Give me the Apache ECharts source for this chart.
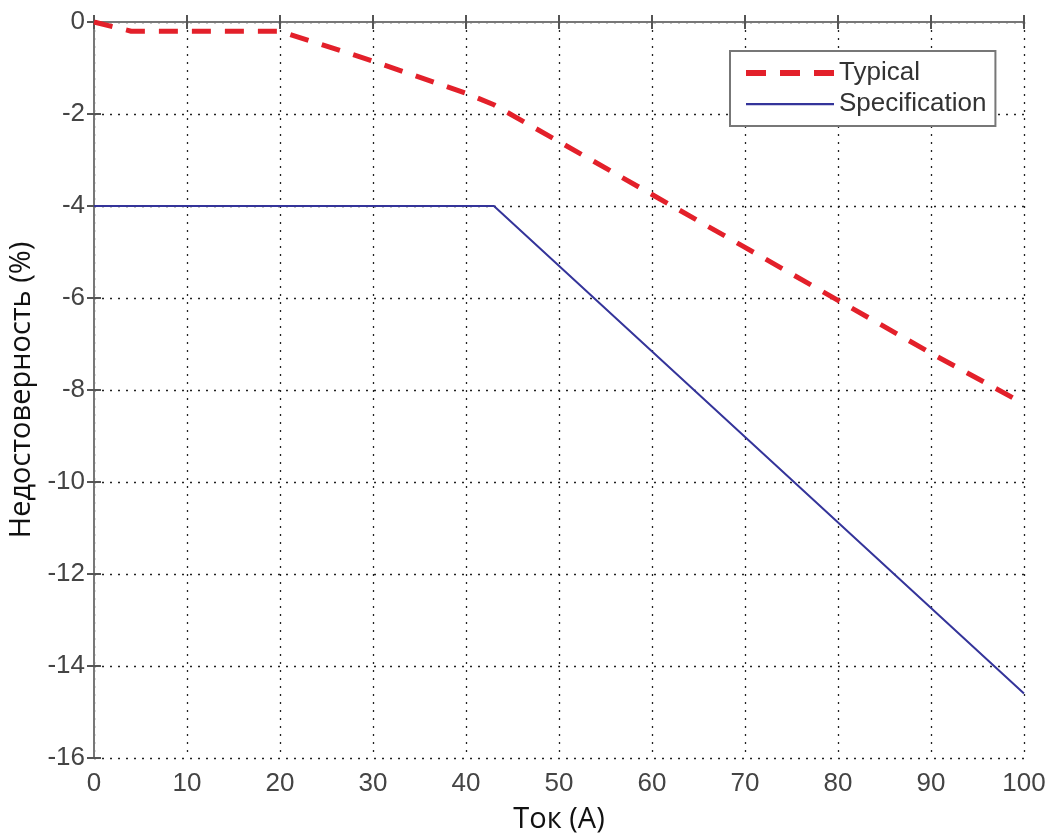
<!DOCTYPE html>
<html><head><meta charset="utf-8">
<script src="https://cdn.jsdelivr.net/npm/echarts@6/dist/echarts.min.js"></script>
<style>html,body{margin:0;padding:0;background:#fff}#c{width:1056px;height:837px}</style>
</head><body><div id="c"></div>
<script>
const xTicks = [0,10,20,30,40,50,60,70,80,90,100];
const yTicks = [0,-2,-4,-6,-8,-10,-12,-14,-16];
const typicalX = [0,4,20,30,40,43,50,60,70,80,90,100];
const typicalY = [0,-0.2,-0.2,-0.85,-1.55,-1.8,-2.6,-3.75,-4.9,-6.05,-7.2,-8.3];
const specX = [0,43,100];
const specY = [-4,-4,-14.6];
const seriesNames = ['Typical','Specification'];
const xName = 'Ток (А)';
const yName = 'Недостоверность (%)';

const chart = echarts.init(document.getElementById('c'));
const pair = (xs, ys) => xs.map((x,i)=>[x, ys[i]]);
const gridLine = {show:true, lineStyle:{color:'#222', type:[2,6], width:1.3}};
chart.setOption({
  animation:false,
  grid:{left:94, right:32, top:22, bottom:79, containLabel:false, outerBoundsMode:'none'},
  legend:{
    orient:'vertical', left:730, top:51,
    padding:[9,9,9,16], itemGap:5,
    borderColor:'#777', borderWidth:2, backgroundColor:'#fff',
    itemWidth:88, itemHeight:6,
    textStyle:{fontFamily:'Liberation Sans', fontSize:26, color:'#333'},
    data:[
      {name:seriesNames[0], icon:'path://M0,0h20v6h-20z M34,0h20v6h-20z M68,0h20v6h-20z', itemStyle:{color:'#e3202a', borderWidth:0}},
      {name:seriesNames[1], icon:'path://M0,0L0,0 M0,2h88v2.2h-88z M0,6L0,6', itemStyle:{color:'#34349a', borderWidth:0}}
    ]
  },
  xAxis:[{
    type:'value', min:0, max:100, interval:10,
    name:xName, nameLocation:'middle', nameGap:47,
    nameTextStyle:{fontFamily:'Open Sans', fontSize:29, color:'#111'},
    axisLine:{show:true, lineStyle:{color:'#777', width:2}},
    axisTick:{show:true, inside:true, length:7, lineStyle:{color:'#555', width:2}},
    axisLabel:{fontFamily:'Liberation Sans', fontSize:26, color:'#444', margin:13},
    splitLine:gridLine
  },{
    type:'value', min:0, max:100, interval:10, position:'top',
    axisLine:{show:true, lineStyle:{color:'#777', width:2}},
    axisTick:{show:true, inside:true, length:7, lineStyle:{color:'#555', width:2}},
    axisLabel:{show:false}, splitLine:{show:false}
  }],
  yAxis:[{
    type:'value', min:-16, max:0, interval:2,
    name:yName, nameLocation:'middle', nameGap:57, nameRotate:90,
    nameTextStyle:{fontFamily:'Open Sans', fontSize:29, color:'#111'},
    axisLine:{show:true, lineStyle:{color:'#777', width:2}},
    axisTick:{show:true, inside:true, length:7, lineStyle:{color:'#555', width:2}},
    axisLabel:{fontFamily:'Liberation Sans', fontSize:26, color:'#444', margin:9},
    splitLine:gridLine
  },{
    type:'value', min:-16, max:0, interval:2, position:'right',
    axisLine:{show:true, lineStyle:{color:'#777', width:2}},
    axisTick:{show:true, inside:true, length:7, lineStyle:{color:'#555', width:2}},
    axisLabel:{show:false}, splitLine:{show:false}
  }],
  series:[
    {name:seriesNames[0], type:'line', data:pair(typicalX, typicalY), symbol:'none',
     color:'#e3202a', lineStyle:{color:'#e3202a', width:5, type:[19,14]}, z:3},
    {name:seriesNames[1], type:'line', data:pair(specX, specY), symbol:'none',
     color:'#34349a', lineStyle:{color:'#34349a', width:2}, z:2}
  ]
});
</script></body></html>
